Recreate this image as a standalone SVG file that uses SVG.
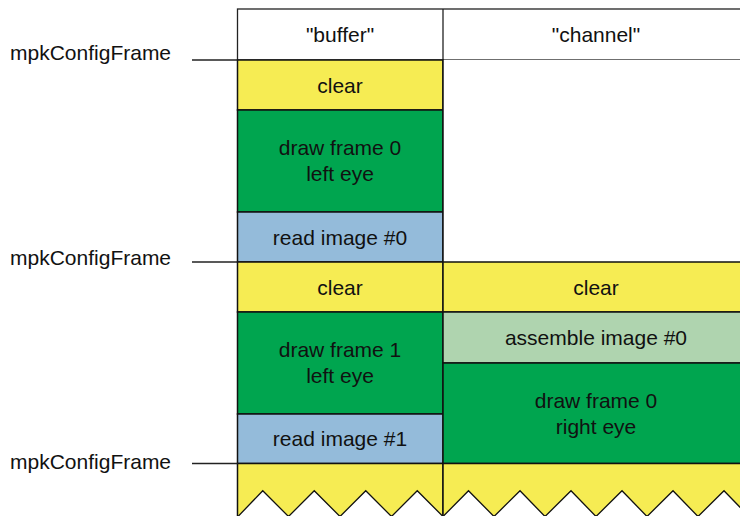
<svg xmlns="http://www.w3.org/2000/svg" width="740" height="516" viewBox="0 0 740 516">
<style>
  text { font-family: "Liberation Sans", Arial, sans-serif; font-size: 21px; fill: #111; text-anchor: middle; }
  text.lbl { text-anchor: start; }
  .cell { stroke: #111; stroke-width: 1.5; }
  .yel { fill: #F6EC53; }
  .grn { fill: #00A54F; }
  .blu { fill: #94BBDA; }
  .lgr { fill: #AFD4AF; }
  .tick { stroke: #222; stroke-width: 1.3; fill: none; }
  .zig { fill: #fff; stroke: #111; stroke-width: 1.3; }
</style>
<rect width="740" height="516" fill="#fff"/>

<g id="header">
  <rect x="237.5" y="9" width="520" height="51" fill="#fff" stroke="#222" stroke-width="1.3"/>
  <line x1="443" y1="9" x2="443" y2="60" stroke="#222" stroke-width="1.3"/>
  <text x="340" y="41.5">"buffer"</text>
  <text x="596" y="41.5">"channel"</text>
</g>

<g id="buf-clear0">
  <rect class="cell yel" x="237.5" y="60" width="205.5" height="50"/>
  <text x="340" y="92.5">clear</text>
</g>
<g id="buf-draw0">
  <rect class="cell grn" x="237.5" y="110" width="205.5" height="102"/>
  <text x="340" y="154.5">draw frame 0</text>
  <text x="340" y="180.5">left eye</text>
</g>
<g id="buf-read0">
  <rect class="cell blu" x="237.5" y="212" width="205.5" height="50"/>
  <text x="340" y="244.5">read image #0</text>
</g>
<g id="buf-clear1">
  <rect class="cell yel" x="237.5" y="262" width="205.5" height="50"/>
  <text x="340" y="294.5">clear</text>
</g>
<g id="buf-draw1">
  <rect class="cell grn" x="237.5" y="312" width="205.5" height="102"/>
  <text x="340" y="356.5">draw frame 1</text>
  <text x="340" y="383">left eye</text>
</g>
<g id="buf-read1">
  <rect class="cell blu" x="237.5" y="414" width="205.5" height="49.5"/>
  <text x="340" y="446">read image #1</text>
</g>
<g id="buf-next">
  <rect class="cell yel" x="237.5" y="463.5" width="205.5" height="60"/>
  <polygon class="zig" points="237.5,517 262.75,490.75 288.5,516.5 314.25,490.75 340,516.5 365.75,490.75 391.5,516.5 417.25,490.75 443,516.5 443,530 237.5,530"/>
</g>

<g id="ch-idle">
  <rect x="443" y="60" width="310" height="202" fill="#fff"/>
  <line x1="443" y1="60" x2="443" y2="262" stroke="#111" stroke-width="1.5"/>
</g>
<g id="ch-clear">
  <rect class="cell yel" x="443" y="262" width="310" height="50"/>
  <text x="596" y="294.5">clear</text>
</g>
<g id="ch-assemble">
  <rect class="cell lgr" x="443" y="312" width="310" height="51"/>
  <text x="596" y="345">assemble image #0</text>
</g>
<g id="ch-draw0">
  <rect class="cell grn" x="443" y="363" width="310" height="100.5"/>
  <text x="596" y="407.5">draw frame 0</text>
  <text x="596" y="434">right eye</text>
</g>
<g id="ch-next">
  <rect class="cell yel" x="443" y="463.5" width="310" height="60"/>
  <polygon class="zig" points="443,516.5 468.5,490.75 494,516.5 520,490.75 545,516.5 571,490.75 596,516.5 622,490.75 647,516.5 673,490.75 698,516.5 724,490.75 749,516.5 749,530 443,530"/>
</g>

<g id="label-0"><text class="lbl" x="10" y="59.5">mpkConfigFrame</text></g>
<g id="label-1"><text class="lbl" x="10" y="264.5">mpkConfigFrame</text></g>
<g id="label-2"><text class="lbl" x="10" y="468.5">mpkConfigFrame</text></g>

<g id="connectors">
  <line class="tick" x1="192" y1="60" x2="237.5" y2="60"/>
  <line class="tick" x1="192" y1="262" x2="237.5" y2="262"/>
  <line class="tick" x1="192" y1="463.5" x2="237.5" y2="463.5"/>
</g>
</svg>
